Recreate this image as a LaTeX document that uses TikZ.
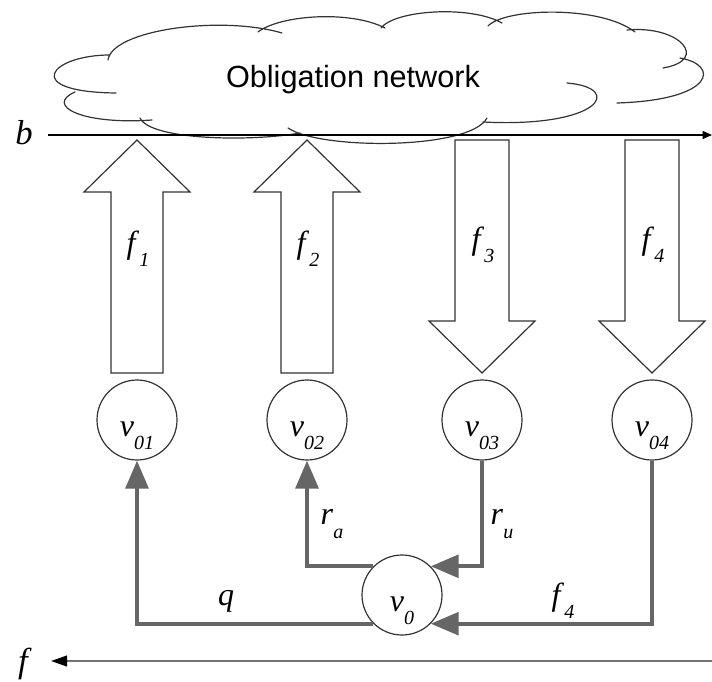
\documentclass[tikz,border=0pt]{standalone}
\usepackage{fontspec}
\setmainfont{Liberation Serif}
\newfontfamily\cloudfont{Liberation Sans}
\usetikzlibrary{arrows.meta}
\newcommand{\sublbl}[2]{\textit{#1}\raisebox{-10pt}{\fontsize{15}{15}\selectfont\textit{#2}}}

\begin{document}
\begin{tikzpicture}[x=0.75pt, y=-0.75pt,
				   agent/.style={circle, draw=black!80, line width=0.9pt, minimum size=60pt, inner sep=0pt,
				   		text height=24pt, text depth=0pt, font=\fontsize{24}{28}\selectfont},
				   bigflow/.style={draw=black!80, fill=white, line width=0.9pt},
				   money/.style={draw=black!60, line width=3pt, -{Triangle[length=21pt, width=17pt]}},
				   tag/.style={inner sep=0pt, font=\fontsize{24}{28}\selectfont},
				   axis/.style={line width=1.1pt},
				   puff/.style={draw=black!80, line width=0.9pt, line cap=round}]
\useasboundingbox (0,0) rectangle (712,681);
\draw[puff] (108,60) .. controls (112,30) and (220,15) .. (282,33)
	(258,32) .. controls (280,15) and (350,10) .. (385,28)
	(381,28) .. controls (395,10) and (470,5) .. (502,23)
	(488,26) .. controls (505,8) and (600,5) .. (635,32)
	(627,30) .. controls (680,25) and (710,60) .. (663,68)
	(680,58) .. controls (720,65) and (715,100) .. (617,103)
	(567,83) .. controls (625,88) and (600,128) .. (483,122)
	(487,118) .. controls (470,150) and (320,150) .. (288,128)
	(300,133) .. controls (250,142) and (150,140) .. (140,118)
	(75,92) .. controls (45,105) and (80,125) .. (152,120)
	(110,55) .. controls (50,55) and (20,92) .. (116,93);
\node[font=\cloudfont\fontsize{23}{27}\selectfont, inner sep=0pt] (net) at (353,80) {Obligation network};

\coordinate (bL) at (48,135);
\coordinate (bR) at (712,135);
\coordinate (fR) at (712,661);
\coordinate (fL) at (51,661);
\draw[axis, -{Triangle[length=7pt, width=6pt]}] (bL) -- (bR);
\draw[axis, black!55, line width=1.5pt, -{Triangle[length=12pt, width=8pt, color=black]}] (fR) -- (fL);
\node[tag, font=\fontsize{26}{30}\selectfont] (b) at (24,133) {\textit{b}};
\node[tag, font=\fontsize{26}{30}\selectfont] (f) at (25,664) {\textit{f}};

\foreach \x/\n in {137/1, 307/2} {
	\draw[bigflow] (\x-26,373) -- (\x-26,192) -- (\x-53,192) -- (\x,140) -- (\x+53,192) -- (\x+26,192) -- (\x+26,373) -- cycle;
	\node[tag] (f\n) at (\x+1,249) {\sublbl{f}{\n}};
}
\foreach \x/\n in {482/3, 652/4} {
	\draw[bigflow] (\x-27,140) -- (\x-27,321) -- (\x-53,321) -- (\x,373) -- (\x+53,321) -- (\x+27,321) -- (\x+27,140) -- cycle;
	\node[tag] (f\n) at (\x+1,245) {\sublbl{f}{\n}};
}

\node[agent] (v01) at (137,420) {\sublbl{v}{01}};
\node[agent] (v02) at (307,420) {\sublbl{v}{02}};
\node[agent] (v03) at (482,420) {\sublbl{v}{03}};
\node[agent] (v04) at (652,420) {\sublbl{v}{04}};
\node[agent] (v0) at (402,595) {\sublbl{v}{0}};

\draw[money] (v0.south west) -| (v01.south);
\draw[money] (v0.north west) -| (v02.south);
\draw[money] (v03.south) |- (v0.north east);
\draw[money] (v04.south) |- (v0.south east);

\node[tag] (q) at (226,601) {\textit{q}};
\node[tag] (ra) at (332,524) {\sublbl{r}{a}};
\node[tag] (ru) at (502,524) {\sublbl{r}{u}};
\node[tag] (f4b) at (563,601) {\sublbl{f}{4}};
\end{tikzpicture}
\end{document}
